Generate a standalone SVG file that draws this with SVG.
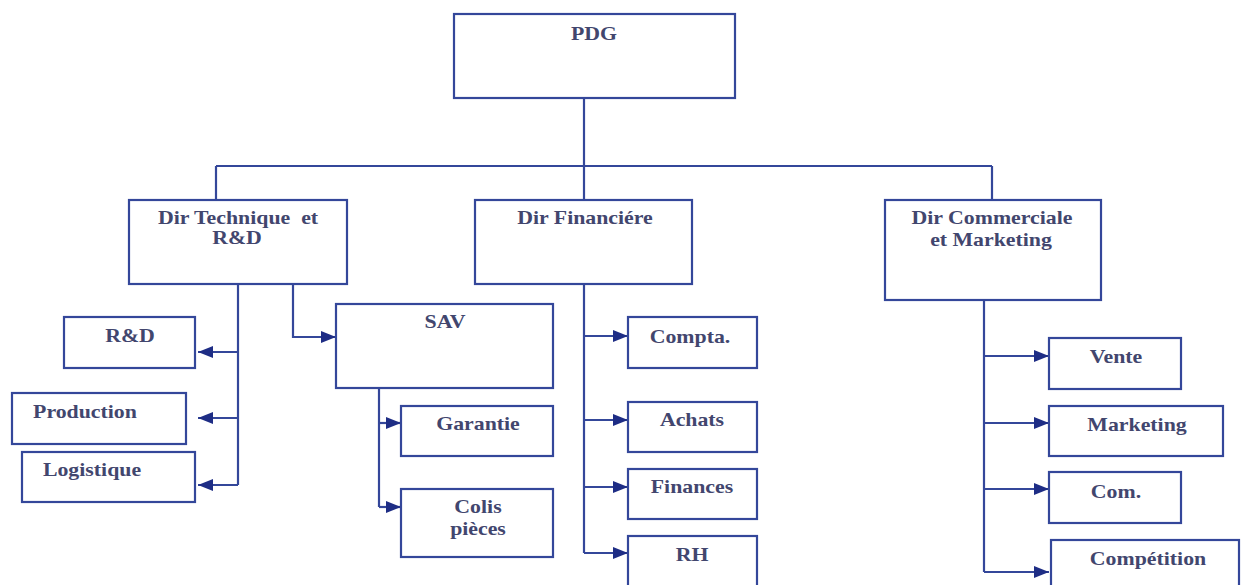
<svg xmlns="http://www.w3.org/2000/svg" width="1244" height="585" viewBox="0 0 1244 585">
<style>
.box{fill:#ffffff;stroke:#34479a;stroke-width:2.2}
.ln{fill:none;stroke:#34479a;stroke-width:2.2}
.ar{fill:none;stroke:#34479a;stroke-width:2.2;marker-end:url(#ah)}
.t{font-family:"Liberation Serif","Times New Roman",serif;font-weight:bold;font-size:18.5px;fill:#42466e;text-anchor:middle}
</style>
<defs>
<marker id="ah" markerUnits="userSpaceOnUse" markerWidth="16" markerHeight="14" refX="15" refY="7" orient="auto">
<path d="M0,1 L15,7 L0,13 z" fill="#1e2d85"/>
</marker>
</defs>
<rect width="1244" height="585" fill="#ffffff"/>
<g id="connectors">
<path class="ln" d="M584,98 V166"/>
<path class="ln" d="M216,166 H992"/>
<path class="ln" d="M216,166 V200"/>
<path class="ln" d="M584,166 V200"/>
<path class="ln" d="M992,166 V200"/>
<path class="ln" d="M238,284 V485"/>
<path class="ar" d="M238,352 H198"/>
<path class="ar" d="M238,418 H198"/>
<path class="ar" d="M238,485 H198"/>
<path class="ar" d="M293,284 V337 H336"/>
<path class="ln" d="M379,388 V507"/>
<path class="ar" d="M379,423 H401"/>
<path class="ar" d="M379,507 H401"/>
<path class="ln" d="M584,284 V553"/>
<path class="ar" d="M584,336 H628"/>
<path class="ar" d="M584,420 H628"/>
<path class="ar" d="M584,487 H628"/>
<path class="ar" d="M584,553 H628"/>
<path class="ln" d="M984,300 V572"/>
<path class="ar" d="M984,356 H1049"/>
<path class="ar" d="M984,423 H1049"/>
<path class="ar" d="M984,489 H1049"/>
<path class="ar" d="M984,572 H1049"/>
</g>
<g id="pdg"><rect class="box" x="454" y="14" width="281" height="84"/><text class="t" transform="translate(594,40) scale(1.18,1)">PDG</text></g>
<g id="dir-technique"><rect class="box" x="129" y="200" width="218" height="84"/><text class="t" transform="translate(238,224) scale(1.18,1)" xml:space="preserve">Dir Technique  et</text><text class="t" transform="translate(237,244) scale(1.18,1)">R&amp;D</text></g>
<g id="dir-financiere"><rect class="box" x="475" y="200" width="217" height="84"/><text class="t" transform="translate(585,224) scale(1.18,1)">Dir Financiére</text></g>
<g id="dir-commerciale"><rect class="box" x="885" y="200" width="216" height="100"/><text class="t" transform="translate(992,224) scale(1.18,1)">Dir Commerciale</text><text class="t" transform="translate(991,246) scale(1.18,1)">et Marketing</text></g>
<g id="rd"><rect class="box" x="64" y="317" width="131" height="51"/><text class="t" transform="translate(130,342) scale(1.18,1)">R&amp;D</text></g>
<g id="production"><rect class="box" x="12" y="393" width="174" height="51"/><text class="t" transform="translate(85,418) scale(1.18,1)">Production</text></g>
<g id="logistique"><rect class="box" x="22" y="452" width="173" height="50"/><text class="t" transform="translate(92,476) scale(1.18,1)">Logistique</text></g>
<g id="sav"><rect class="box" x="336" y="304" width="217" height="84"/><text class="t" transform="translate(445,328) scale(1.18,1)">SAV</text></g>
<g id="garantie"><rect class="box" x="401" y="406" width="152" height="50"/><text class="t" transform="translate(478,430) scale(1.18,1)">Garantie</text></g>
<g id="colis-pieces"><rect class="box" x="401" y="489" width="152" height="68"/><text class="t" transform="translate(478,513) scale(1.18,1)">Colis</text><text class="t" transform="translate(478,535) scale(1.18,1)">pièces</text></g>
<g id="compta"><rect class="box" x="628" y="317" width="129" height="51"/><text class="t" transform="translate(690,343) scale(1.18,1)">Compta.</text></g>
<g id="achats"><rect class="box" x="628" y="402" width="129" height="50"/><text class="t" transform="translate(692,426) scale(1.18,1)">Achats</text></g>
<g id="finances"><rect class="box" x="628" y="469" width="129" height="50"/><text class="t" transform="translate(692,493) scale(1.18,1)">Finances</text></g>
<g id="rh"><rect class="box" x="628" y="536" width="129" height="60"/><text class="t" transform="translate(692,561) scale(1.18,1)">RH</text></g>
<g id="vente"><rect class="box" x="1049" y="338" width="132" height="51"/><text class="t" transform="translate(1116,363) scale(1.18,1)">Vente</text></g>
<g id="marketing"><rect class="box" x="1049" y="406" width="174" height="50"/><text class="t" transform="translate(1137,431) scale(1.18,1)">Marketing</text></g>
<g id="com"><rect class="box" x="1049" y="472" width="132" height="51"/><text class="t" transform="translate(1116,498) scale(1.18,1)">Com.</text></g>
<g id="competition"><rect class="box" x="1051" y="540" width="188" height="60"/><text class="t" transform="translate(1148,565) scale(1.18,1)">Compétition</text></g>
</svg>
